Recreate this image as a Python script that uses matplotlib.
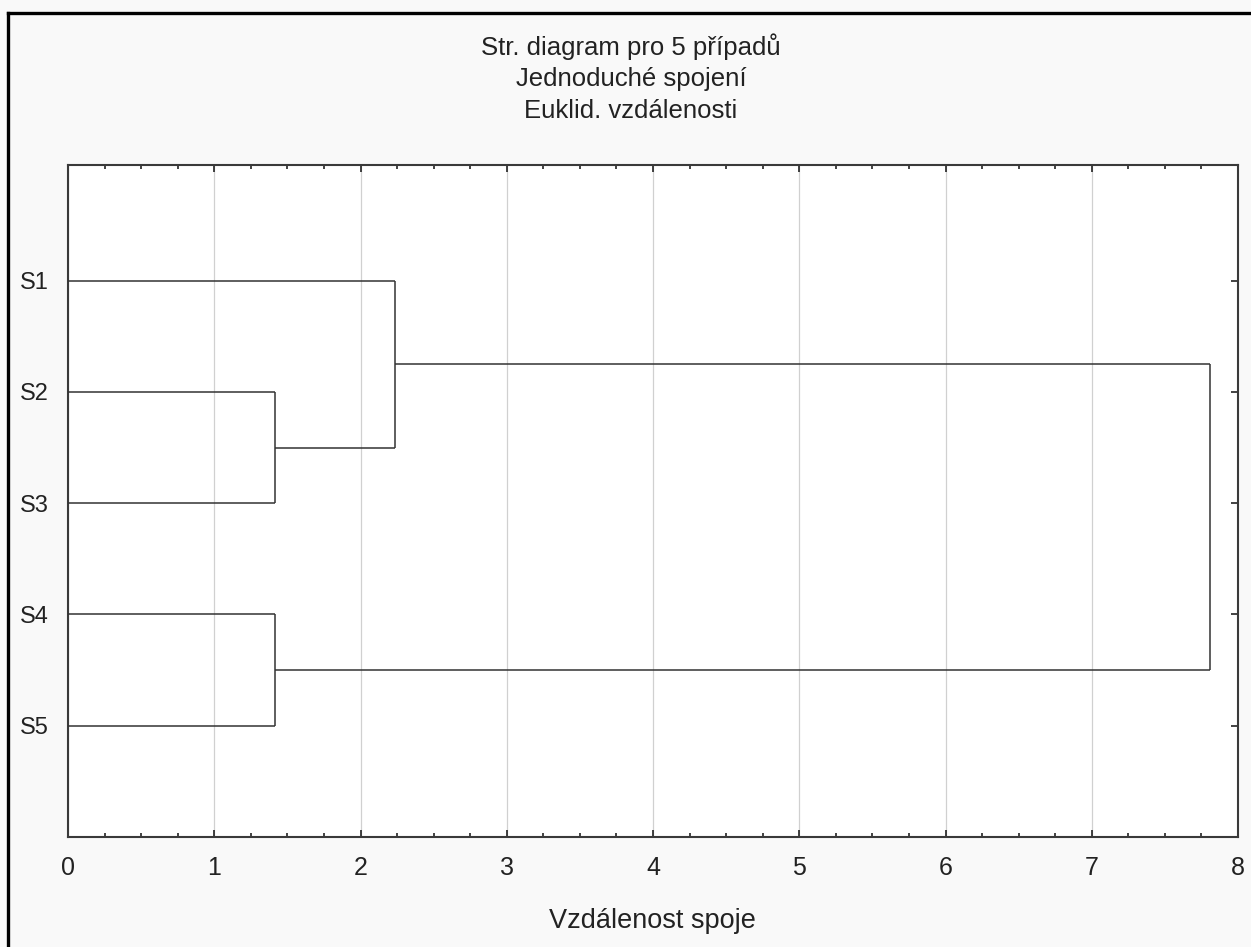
import matplotlib
matplotlib.use("Agg")
import matplotlib.pyplot as plt
from matplotlib.lines import Line2D
import numpy as np

# ---- data ----
leaf_labels = ["S1", "S2", "S3", "S4", "S5"]
# linkage rows: (cluster a, cluster b, distance); new clusters numbered from 5
link_a = [1, 3, 0, 7]
link_b = [2, 4, 5, 6]
link_dist = [1.414, 1.414, 2.236, 7.81]
x_ticks = [0, 1, 2, 3, 4, 5, 6, 7, 8]
title_lines = ["Str. diagram pro 5 případů", "Jednoduché spojení", "Euklid. vzdálenosti"]
x_label = "Vzdálenost spoje"

W, H = 1251, 947
fig = plt.figure(figsize=(W / 100, H / 100), dpi=100)
fig.patch.set_facecolor("#f9f9f9")

ax = fig.add_axes([68 / W, 110 / H, 1170 / W, 672 / H])
ax.set_facecolor("white")

FONT = ["Liberation Sans", "DejaVu Sans"]
line_col = "#333333"

# positions of clusters
ypos = {i: i + 1.0 for i in range(len(leaf_labels))}
xpos = {i: 0.0 for i in range(len(leaf_labels))}
n = len(leaf_labels)
for k, (a, b, d) in enumerate(zip(link_a, link_b, link_dist)):
    ya, yb = ypos[a], ypos[b]
    xa, xb = xpos[a], xpos[b]
    ax.plot([xa, d], [ya, ya], color=line_col, lw=1.1, solid_capstyle="butt", zorder=3)
    ax.plot([xb, d], [yb, yb], color=line_col, lw=1.1, solid_capstyle="butt", zorder=3)
    ax.plot([d, d], [ya, yb], color=line_col, lw=1.1, solid_capstyle="butt", zorder=3)
    ypos[n + k] = (ya + yb) / 2
    xpos[n + k] = d

ax.set_xlim(0, 8)
ax.set_ylim(6.0, -0.04)

ax.set_xticks(x_ticks)
ax.set_xticks(np.arange(0, 8.01, 0.25), minor=True)
ax.set_yticks(range(1, n + 1))
ax.set_yticklabels(leaf_labels, family=FONT, fontsize=17, color="#222222")
ax.set_xticklabels([str(t) for t in x_ticks], family=FONT, fontsize=18, color="#222222")

ax.tick_params(axis="x", which="major", direction="in", length=5, width=1.2,
               top=True, bottom=True, pad=14, colors="#222222")
ax.tick_params(axis="x", which="minor", direction="in", length=3, width=1.2,
               top=True, bottom=True, colors="#222222")
ax.tick_params(axis="y", which="major", direction="in", length=5, width=1.2,
               left=False, right=True, labelleft=True, pad=14, colors="#222222")

ax.grid(True, axis="x", which="major", color="#d0d0d0", lw=0.9, zorder=0)
ax.set_axisbelow(True)

for s in ax.spines.values():
    s.set_color("#3a3a3a")
    s.set_linewidth(1.5)

# x label
fig.text(652 / W, 1 - 921 / H, x_label, ha="center", va="center",
         family=FONT, fontsize=19.5, color="#222222")

# title lines
for txt, yc in zip(title_lines, [47, 79, 111]):
    fig.text(631 / W, 1 - yc / H, txt, ha="center", va="center",
             family=FONT, fontsize=18.5, color="#222222")

# outer border (left and top)
fig.add_artist(Line2D([8 / W, 8 / W], [0, 1 - 13 / H], transform=fig.transFigure,
                      color="black", lw=2.4, solid_capstyle="projecting"))
fig.add_artist(Line2D([8 / W, 1], [1 - 13 / H, 1 - 13 / H], transform=fig.transFigure,
                      color="black", lw=2.4, solid_capstyle="projecting"))

fig.savefig("out.png", dpi=100, facecolor=fig.get_facecolor())
